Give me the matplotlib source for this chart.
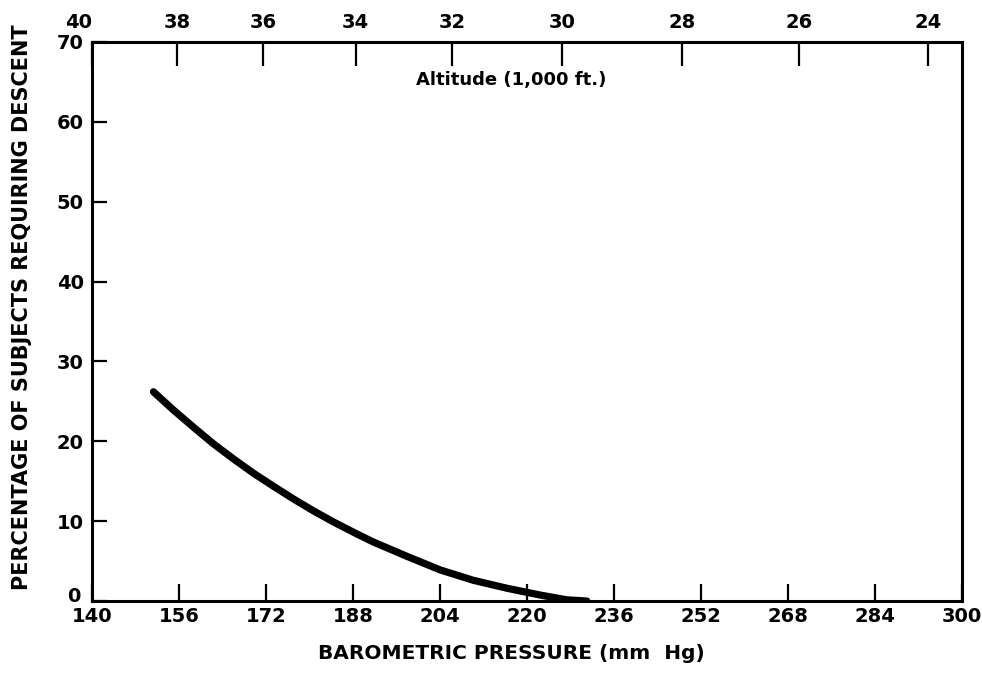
import matplotlib
matplotlib.use('Agg')
import matplotlib.pyplot as plt
import matplotlib.transforms as mtransforms

# 下降所需受试者百分比曲线
pressure = [151.3, 155.0, 158.6, 162.3, 166.0, 169.7, 173.3, 177.0, 180.7,
            184.4, 188.7, 191.7, 197.9, 204.0, 210.1, 216.3, 222.4, 227.3, 231.0]
percent = [26.2, 23.9, 21.8, 19.7, 17.8, 16.0, 14.4, 12.8, 11.3,
           9.9, 8.4, 7.4, 5.6, 3.9, 2.6, 1.6, 0.75, 0.15, 0.0]

# 坐标轴刻度
x_ticks = [140, 156, 172, 188, 204, 220, 236, 252, 268, 284, 300]
y_ticks = [0, 10, 20, 30, 40, 50, 60, 70]
alt_labels = ['40', '38', '36', '34', '32', '30', '28', '26', '24']
alt_pressure = [140, 155.6, 171.4, 188.5, 206.2, 226.4, 248.5, 270.0, 293.7]

plt.rcParams['font.family'] = ['DejaVu Sans']
plt.rcParams['font.weight'] = 'bold'

fig = plt.figure(figsize=(9.82, 6.75), dpi=100)
ax = fig.add_axes([0.0937, 0.1096, 0.886, 0.8282])

ax.plot(pressure, percent, color='black', lw=5.2, solid_capstyle='round',
        solid_joinstyle='round')

ax.set_xlim(140, 300)
ax.set_ylim(0, 70)
ax.set_xticks(x_ticks)
ax.set_yticks(y_ticks)
ax.tick_params(axis='x', direction='in', length=12, width=1.6, pad=4, labelsize=14)
ax.tick_params(axis='y', direction='in', length=11, width=1.6, pad=6, labelsize=14)
for s in ax.spines.values():
    s.set_linewidth(2.2)

# 纵轴 0 稍微上移，避免与 140 重叠
lbl0 = ax.get_yticklabels()[0]
lbl0.set_transform(lbl0.get_transform() +
                   mtransforms.ScaledTranslation(-2 / 72, 5 / 72, fig.dpi_scale_trans))

# 上方高度坐标
top = ax.twiny()
top.set_xlim(ax.get_xlim())
top.set_xticks(alt_pressure)
top.set_xticklabels(alt_labels)
top.tick_params(axis='x', direction='in', length=17, width=1.6, pad=7, labelsize=14)
top.get_xticklabels()[0].set_horizontalalignment('right')

ax.text(217, 65.2, 'Altitude (1,000 ft.)', ha='center', va='center', fontsize=13)

fig.text(0.521, 0.018, 'BAROMETRIC PRESSURE (mm  Hg)', ha='center', va='bottom', fontsize=14.5)
fig.text(0.022, 0.545, 'PERCENTAGE OF SUBJECTS REQUIRING DESCENT', rotation=90,
         ha='center', va='center', fontsize=15)

fig.savefig('out.png', dpi=100)
